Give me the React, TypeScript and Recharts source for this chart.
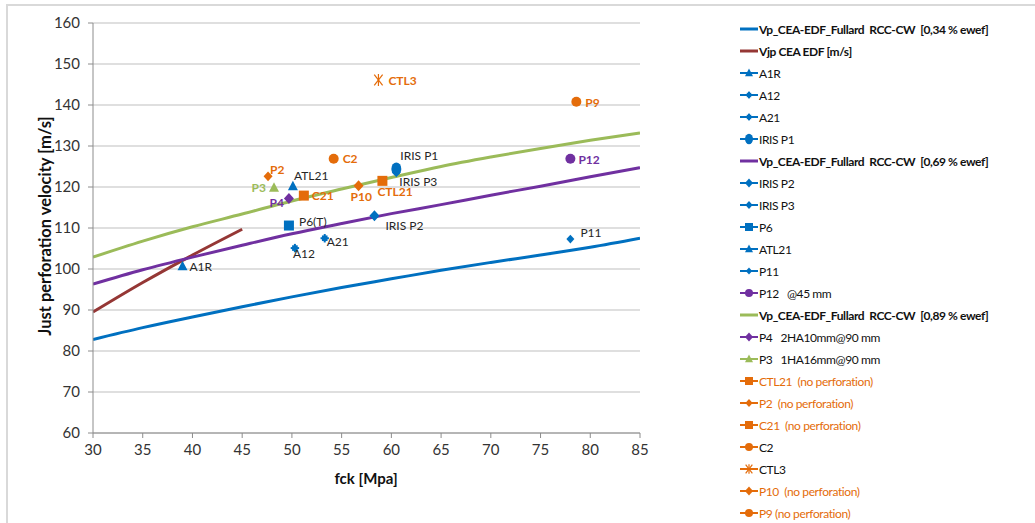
import React from "react";
import { ComposedChart, Line, Scatter, XAxis, YAxis, CartesianGrid } from "recharts";

// model curves at every 5 MPa
const FCK = [30, 35, 40, 45, 50, 55, 60, 65, 70, 75, 80, 85];
const VP_034 = [82.8, 85.7, 88.3, 90.8, 93.2, 95.5, 97.6, 99.7, 101.6, 103.4, 105.3, 107.5];
const VP_069 = [96.3, 99.8, 102.9, 105.8, 108.6, 111.1, 113.5, 115.7, 118.0, 120.2, 122.5, 124.7];
const VP_089 = [102.9, 106.8, 110.3, 113.4, 116.6, 119.5, 122.3, 125.0, 127.3, 129.4, 131.4, 133.2];
const VJP_FCK = [30, 35, 40, 45];
const VJP = [89.5, 96.7, 103.4, 109.7];

// test results
const POINT_NAMES = ["A1R", "A12", "A21", "IRIS P1", "IRIS P3", "IRIS P2", "P6", "ATL21", "P11", "P12",
  "P4", "P3", "CTL21", "P2", "C21", "C2", "CTL3", "P10", "P9"];
const POINT_FCK = [39.0, 50.3, 53.3, 60.5, 60.5, 58.3, 49.7, 50.1, 78.0, 78.0,
  49.7, 48.2, 59.1, 47.6, 51.2, 54.2, 58.7, 56.7, 78.6];
const POINT_V = [100.7, 105.1, 107.5, 124.4, 123.6, 113.0, 110.6, 120.2, 107.3, 126.9,
  117.2, 119.8, 121.5, 122.6, 117.9, 126.9, 146.1, 120.3, 140.8];
const POINT_LABELS = ["A1R", "A12", "A21", "IRIS P1", "IRIS P3", "IRIS P2", "P6(T)", "ATL21", "P11", "P12",
  "P4", "P3", "CTL21", "P2", "C21", "C2", "CTL3", "P10", "P9"];

const X_TICKS = [30, 35, 40, 45, 50, 55, 60, 65, 70, 75, 80, 85];
const Y_TICKS = [60, 70, 80, 90, 100, 110, 120, 130, 140, 150, 160];

const LEGEND_KEYS = ["vp034", "vjp", "A1R", "A12", "A21", "IRIS P1", "vp069", "IRIS P2", "IRIS P3", "P6",
  "ATL21", "P11", "P12", "vp089", "P4", "P3", "CTL21", "P2", "C21", "C2", "CTL3", "P10", "P9"];
const LEGEND_TEXT = [
  "Vp_CEA-EDF_Fullard  RCC-CW  [0,34 % ewef]",
  "Vjp CEA EDF [m/s]",
  "A1R", "A12", "A21", "IRIS P1",
  "Vp_CEA-EDF_Fullard  RCC-CW  [0,69 % ewef]",
  "IRIS P2", "IRIS P3", "P6", "ATL21", "P11", "P12   @45 mm",
  "Vp_CEA-EDF_Fullard  RCC-CW  [0,89 % ewef]",
  "P4   2HA10mm@90 mm", "P3   1HA16mm@90 mm",
  "CTL21  (no perforation)", "P2  (no perforation)", "C21  (no perforation)",
  "C2", "CTL3", "P10  (no perforation)", "P9 (no perforation)",
];

const BLUE = "#0070C0";
const BROWN = "#953735";
const PURPLE = "#7030A0";
const GREEN = "#9BBB59";
const ORANGE = "#E46C0A";
const DARK = "#262626";
const FONT = "Lato, 'Open Sans', sans-serif";

const LINE_STYLE: Record<string, string> = { vp034: BLUE, vjp: BROWN, vp069: PURPLE, vp089: GREEN };

type PStyle = { shape: string; color: string; size: number; lc: string; bold?: boolean; dx: number; dy: number; anchor?: string; legendText?: string };
const POINT_STYLE: Record<string, PStyle> = {
  "A1R": { shape: "tri", color: BLUE, size: 10, lc: DARK, dx: 7, dy: 5 },
  "A12": { shape: "plus", color: BLUE, size: 7, lc: DARK, dx: -2, dy: 10 },
  "A21": { shape: "plus", color: BLUE, size: 7, lc: DARK, dx: 2, dy: 8 },
  "IRIS P1": { shape: "oval", color: BLUE, size: 10, lc: DARK, dx: 4, dy: -9 },
  "IRIS P3": { shape: "dia", color: BLUE, size: 9, lc: DARK, dx: 3, dy: 14 },
  "IRIS P2": { shape: "dia", color: BLUE, size: 10, lc: DARK, dx: 11, dy: 14 },
  "P6": { shape: "sq", color: BLUE, size: 10, lc: DARK, dx: 10, dy: 0 },
  "ATL21": { shape: "tri", color: BLUE, size: 10, lc: DARK, dx: 1, dy: -6 },
  "P11": { shape: "dia", color: BLUE, size: 8, lc: DARK, dx: 10, dy: -2 },
  "P12": { shape: "circ", color: PURPLE, size: 10, lc: PURPLE, bold: true, dx: 8, dy: 5 },
  "P4": { shape: "dia", color: PURPLE, size: 10, lc: PURPLE, bold: true, dx: -5, dy: 9, anchor: "end" },
  "P3": { shape: "tri", color: GREEN, size: 10, lc: GREEN, bold: true, dx: -8, dy: 4, anchor: "end" },
  "CTL21": { shape: "sq", color: ORANGE, size: 10, lc: ORANGE, bold: true, dx: -5, dy: 15, legendText: ORANGE },
  "P2": { shape: "dia", color: ORANGE, size: 9, lc: ORANGE, bold: true, dx: 2, dy: -2, legendText: ORANGE },
  "C21": { shape: "sq", color: ORANGE, size: 10, lc: ORANGE, bold: true, dx: 8, dy: 4, legendText: ORANGE },
  "C2": { shape: "circ", color: ORANGE, size: 10, lc: ORANGE, bold: true, dx: 9, dy: 4 },
  "CTL3": { shape: "star", color: ORANGE, size: 12, lc: ORANGE, bold: true, dx: 10, dy: 5 },
  "P10": { shape: "dia", color: ORANGE, size: 10, lc: ORANGE, bold: true, dx: -8, dy: 15, legendText: ORANGE },
  "P9": { shape: "circ", color: ORANGE, size: 10, lc: ORANGE, bold: true, dx: 9, dy: 5, legendText: ORANGE },
};

const zip = (xs: number[], ys: number[]) => xs.map((x, i) => ({ x, y: ys[i] }));
const points = POINT_NAMES.map((name, i) => ({ name, label: POINT_LABELS[i], x: POINT_FCK[i], y: POINT_V[i] }));

function Marker({ shape, color, size, cx, cy }: { shape: string; color: string; size: number; cx: number; cy: number }) {
  const h = size / 2;
  switch (shape) {
    case "tri":
      return <polygon points={`${cx},${cy - h * 1.1} ${cx - h},${cy + h * 0.8} ${cx + h},${cy + h * 0.8}`} fill={color} />;
    case "sq":
      return <rect x={cx - h} y={cy - h} width={size} height={size} fill={color} />;
    case "plus":
      return (
        <g fill={color}>
          <rect x={cx - h * 0.8} y={cy - h * 0.8} width={size * 0.8} height={size * 0.8} />
          <rect x={cx - h * 1.2} y={cy - 1} width={size * 1.2} height={2} />
          <rect x={cx - 1} y={cy - h * 1.2} width={2} height={size * 1.2} />
        </g>
      );
    case "dia":
      return <polygon points={`${cx},${cy - h * 1.1} ${cx + h},${cy} ${cx},${cy + h * 1.1} ${cx - h},${cy}`} fill={color} />;
    case "oval":
      return <ellipse cx={cx} cy={cy} rx={h} ry={h * 1.3} fill={color} />;
    case "circ":
      return <circle cx={cx} cy={cy} r={h} fill={color} />;
    case "star":
      return (
        <g stroke={color} strokeWidth={1.2}>
          <line x1={cx} y1={cy - h} x2={cx} y2={cy + h} />
          <line x1={cx - h * 0.7} y1={cy - h * 0.9} x2={cx + h * 0.7} y2={cy + h * 0.9} />
          <line x1={cx + h * 0.7} y1={cy - h * 0.9} x2={cx - h * 0.7} y2={cy + h * 0.9} />
        </g>
      );
    default:
      return null;
  }
}

function PointShape(props: any) {
  const { cx, cy, payload } = props;
  const st = POINT_STYLE[payload.name];
  return (
    <g>
      <Marker shape={st.shape} color={st.color} size={st.size} cx={cx} cy={cy} />
      <text x={cx + st.dx} y={cy + st.dy} textAnchor={st.anchor || "start"} fill={st.lc}
        fontSize={12} fontWeight={st.bold ? 700 : 400} fontFamily={FONT}>
        {payload.label}
      </text>
    </g>
  );
}

function LegendBox() {
  return (
    <div style={{ position: "absolute", left: 740, top: 18, fontFamily: FONT, fontSize: 12, letterSpacing: -0.4 }}>
      {LEGEND_KEYS.map((key, i) => {
        const lineColor = LINE_STYLE[key];
        const st = POINT_STYLE[key];
        const color = lineColor || st.color;
        return (
          <div key={key} style={{ height: 22, display: "flex", alignItems: "center", whiteSpace: "pre" }}>
            <svg width={18} height={12} style={{ marginRight: 1 }}>
              <line x1={0} y1={6} x2={18} y2={6} stroke={color} strokeWidth={lineColor ? 3 : 2} />
              {st && <Marker shape={st.shape} color={st.color} size={st.size * 0.8} cx={9} cy={6} />}
            </svg>
            <span style={{ fontWeight: lineColor ? 700 : 400, color: st && st.legendText ? st.legendText : "#111" }}>
              {LEGEND_TEXT[i]}
            </span>
          </div>
        );
      })}
    </div>
  );
}

export default function App() {
  const tick = { fontSize: 15, fill: "#333", fontFamily: FONT };
  return (
    <div style={{ position: "absolute", left: 0, top: 0, width: 1035, height: 523, background: "#fff", overflow: "hidden" }}>
      <div style={{ position: "absolute", left: 6, top: 4, width: 1200, height: 700, borderTop: "2px solid #d9d9d9", borderLeft: "2px solid #d9d9d9" }} />
      <ComposedChart width={1035} height={523} margin={{ top: 23, right: 395, bottom: 60, left: 0 }}
        style={{ position: "absolute", left: 0, top: 0 }}>
        <CartesianGrid vertical={false} stroke="#bfbfbf" />
        <XAxis type="number" dataKey="x" domain={[30, 85]} ticks={X_TICKS} allowDataOverflow
          height={30} tick={tick} tickSize={5} tickMargin={6} stroke="#8c8c8c" />
        <YAxis type="number" dataKey="y" domain={[60, 160]} ticks={Y_TICKS} allowDataOverflow
          width={93} tick={tick} tickSize={5} tickMargin={8} stroke="#8c8c8c" />
        <Line data={zip(FCK, VP_034)} dataKey="y" stroke={BLUE} strokeWidth={3} dot={false} type="monotone" isAnimationActive={false} />
        <Line data={zip(VJP_FCK, VJP)} dataKey="y" stroke={BROWN} strokeWidth={3} dot={false} type="monotone" isAnimationActive={false} />
        <Line data={zip(FCK, VP_069)} dataKey="y" stroke={PURPLE} strokeWidth={3} dot={false} type="monotone" isAnimationActive={false} />
        <Line data={zip(FCK, VP_089)} dataKey="y" stroke={GREEN} strokeWidth={3} dot={false} type="monotone" isAnimationActive={false} />
        <Scatter data={points} dataKey="y" shape={PointShape} isAnimationActive={false} />
      </ComposedChart>
      <div style={{ position: "absolute", left: 45, top: 226, transform: "translate(-50%, -50%) rotate(-90deg)", whiteSpace: "nowrap",
        fontFamily: FONT, fontWeight: 700, fontSize: 16.5, color: "#111" }}>
        Just perforation velocity [m/s]
      </div>
      <div style={{ position: "absolute", left: 366, top: 478, transform: "translate(-50%, -50%)", whiteSpace: "nowrap",
        fontFamily: FONT, fontWeight: 700, fontSize: 15, color: "#111" }}>
        fck [Mpa]
      </div>
      <LegendBox />
    </div>
  );
}
